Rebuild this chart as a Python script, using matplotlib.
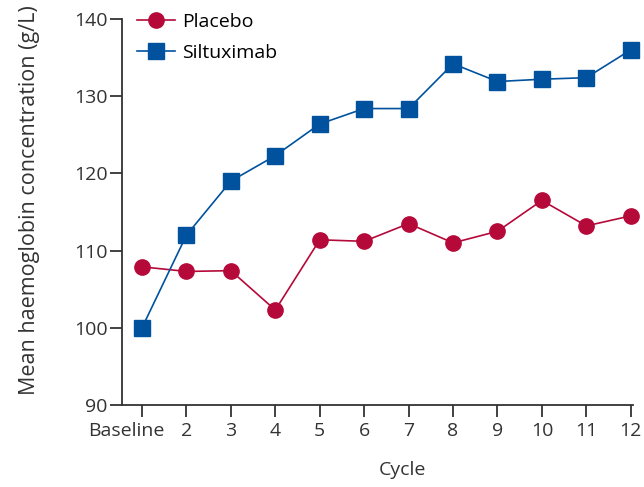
import matplotlib.pyplot as plt
from matplotlib.transforms import ScaledTranslation

# data
cycles = ['Baseline', '2', '3', '4', '5', '6', '7', '8', '9', '10', '11', '12']
placebo = [107.9, 107.3, 107.4, 102.3, 111.4, 111.2, 113.5, 111.0, 112.5, 116.5, 113.2, 114.5]
siltuximab = [100.0, 112.0, 119.0, 122.3, 126.4, 128.4, 128.4, 134.2, 131.9, 132.2, 132.4, 136.0]

red = '#b5093a'
blue = '#00529f'
ink = '#333333'

plt.rcParams['font.family'] = ['Open Sans', 'DejaVu Sans']

W, H = 644, 487
fig = plt.figure(figsize=(W / 100, H / 100), dpi=100)
# axes box in pixels: left 122, right 633, top 19, bottom 405
ax = fig.add_axes([122 / W, 1 - 405 / H, (633 - 122) / W, (405 - 19) / H])

x = list(range(1, len(cycles) + 1))
ax.plot(x, placebo, color=red, lw=1.2, marker='o', ms=11, mec=red, mfc=red, label='Placebo',
        clip_on=False, zorder=3)
ax.plot(x, siltuximab, color=blue, lw=1.2, marker='s', ms=12, mec=blue, mfc=blue, label='Siltuximab',
        clip_on=False, zorder=3)

ax.set_xlim(0.55, 12.05)
ax.set_ylim(90, 140)
ax.set_xticks(x)
ax.set_xticklabels(cycles)
ax.set_yticks([90, 100, 110, 120, 130, 140])

for s in ['top', 'right']:
    ax.spines[s].set_visible(False)
for s in ['left', 'bottom']:
    ax.spines[s].set_color(ink)
    ax.spines[s].set_linewidth(1.3)

ax.tick_params(axis='both', direction='out', length=8.5, width=1.3, color=ink,
               labelcolor=ink, labelsize=14)
ax.tick_params(axis='y', pad=2)
ax.tick_params(axis='x', pad=4)

# "Baseline" sits left of its tick so it does not run into "2"
base = ax.get_xticklabels()[0]
base.set_transform(base.get_transform() + ScaledTranslation(-0.16, 0, fig.dpi_scale_trans))

ax.set_xlabel('Cycle', fontsize=14, color=ink)
ax.set_ylabel('Mean haemoglobin concentration (g/L)', fontsize=15.5, color=ink)
ax.xaxis.set_label_coords(0.548, -0.145)
ax.yaxis.set_label_coords(-0.16, 0.531)

ax.legend(loc='upper left', bbox_to_anchor=(137 / W, 1 - 13 / H), bbox_transform=fig.transFigure,
          frameon=False, fontsize=14, borderpad=0, borderaxespad=0,
          handlelength=1.95, handletextpad=0.36, labelspacing=0.66)

fig.savefig('out.png', dpi=100)
